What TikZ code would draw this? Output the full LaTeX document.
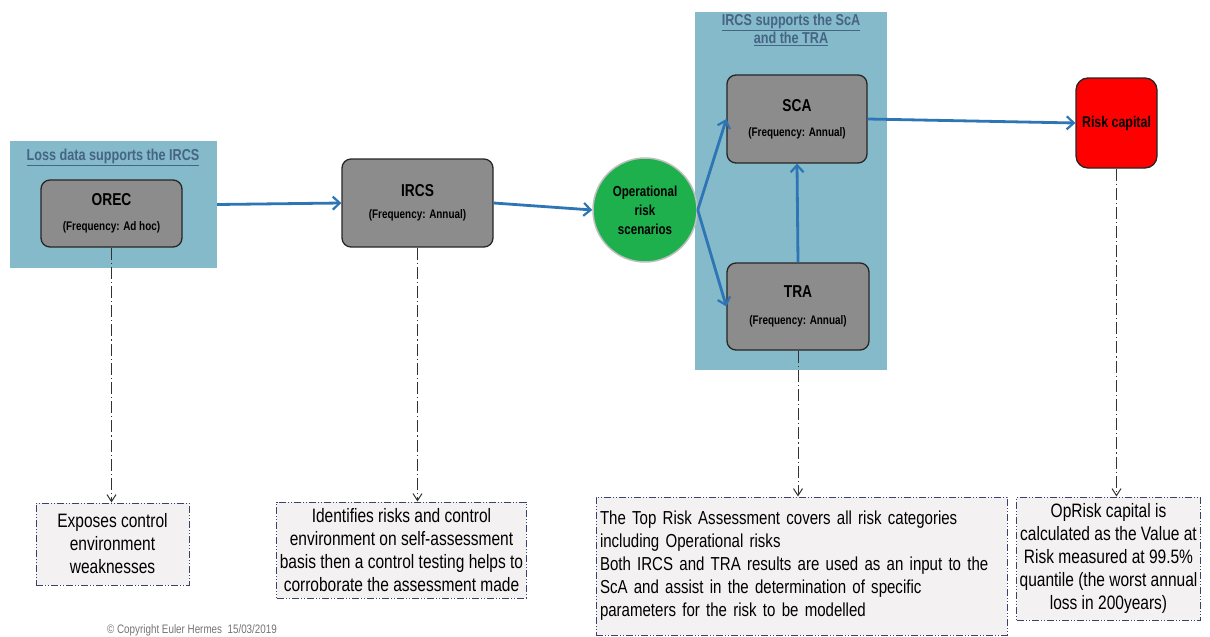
\documentclass[tikz,border=0pt]{standalone}
\usepackage{fontspec}
\setmainfont{Liberation Sans}[FakeStretch=0.80]
\usetikzlibrary{arrows.meta}
\definecolor{panelblue}{RGB}{132,186,201}
\definecolor{paneltext}{RGB}{70,100,132}
\definecolor{boxgray}{RGB}{140,140,140}
\definecolor{flowblue}{RGB}{46,117,182}
\definecolor{notefill}{RGB}{243,241,241}
\definecolor{noteline}{RGB}{58,66,108}
\definecolor{scengreen}{RGB}{30,176,76}
\begin{document}
\begin{tikzpicture}[x=1pt,y=-1pt,line cap=butt,line join=miter,font=\fontsize{19.4}{23}\selectfont]
	\tikzset{panel/.style={fill=panelblue,draw=none,inner sep=0pt},
		paneltitle/.style={text=paneltext,font=\fontsize{15.8}{17}\bfseries,align=center},
		task/.style={draw=black!85,line width=1.3pt,fill=boxgray,rounded corners=9pt,align=center,inner sep=0pt},
		note/.style={draw=noteline,line width=1pt,fill=notefill,inner sep=3pt,
			dash pattern=on 7pt off 2pt on 1pt off 2pt on 1pt off 2pt},
		flow/.style={draw=flowblue,line width=2.8pt,-{Straight Barb[length=7pt,width=13pt,line width=2.2pt]}},
		link/.style={draw=black!80,line width=1pt,dash pattern=on 12pt off 3pt on 1.2pt off 3pt,
			-{Straight Barb[length=7pt,width=9pt,line width=1pt]}}}
	\def\tname#1{{\fontsize{17.2}{22}\bfseries #1}}
	\def\tfreq#1{{\fontsize{12.4}{14}\bfseries #1}}
	\useasboundingbox (0,0) rectangle (1210,637);
	\node[panel,minimum width=207pt,minimum height=127pt] (losspanel) at (113.5,204.5) {};
	\node[panel,minimum width=192pt,minimum height=358pt] (scapanel) at (791,191) {};
	\node[paneltitle] (losstitle) at (113,157) {\underline{Loss data supports the IRCS}};
	\node[paneltitle,font=\fontsize{15.8}{16}\bfseries] (scatitle) at (791,30) {\underline{IRCS supports the ScA}\\\underline{and the TRA}};
	\node[task,minimum width=141pt,minimum height=67pt] (orec) at (111.5,213.5) {\tname{OREC}\\[2pt]\tfreq{(Frequency: Ad hoc)}};
	\node[task,minimum width=151pt,minimum height=88pt] (ircs) at (417.5,203) {\tname{IRCS}\\[-1pt]\tfreq{(Frequency: Annual)}};
	\node[circle,draw=black!25,line width=1.5pt,fill=scengreen,minimum size=104pt,inner sep=0pt,align=center,
		font=\fontsize{14.5}{19}\bfseries] (scen) at (645,210) {Operational\\risk\\scenarios};
	\node[task,minimum width=140pt,minimum height=88pt] (sca) at (797,119) {\tname{SCA}\\[2pt]\tfreq{(Frequency: Annual)}};
	\node[task,minimum width=142pt,minimum height=87pt] (tra) at (798,306.5) {\tname{TRA}\\[4pt]\tfreq{(Frequency: Annual)}};
	\node[task,fill=red,rounded corners=12pt,minimum width=81pt,minimum height=90pt,
		font=\fontsize{15.5}{16}\bfseries] (risk) at (1116.5,123) {Risk capital};
	\node[note,minimum width=153pt,minimum height=82pt,align=center] (exposes) at (112.5,544)
		{Exposes control\\environment\\weaknesses};
	\node[note,minimum width=237pt,minimum height=96pt,align=center] (identifies) at (401.5,550)
		{Identifies risks and control\\environment on self-assessment\\basis then a control testing helps to\\corroborate the assessment made};
	\node[note,minimum width=411pt,minimum height=138pt,text width=403pt,align=left,
		font=\fontsize{18.8}{23}\selectfont] (toprisk) at (801.5,566)
		{The Top Risk Assessment covers all risk categories\\including Operational risks\\Both IRCS and TRA results are used as an input to the\\ScA and assist in the determination of specific\\parameters for the risk to be modelled};
	\node[note,minimum width=183pt,minimum height=123pt,align=center] (oprisk) at (1108.5,558.5)
		{OpRisk capital is\\calculated as the Value at\\Risk measured at 99.5\%\\quantile (the worst annual\\loss in 200years)};
	\node[text=black!55,font=\fontsize{12.3}{13}\selectfont] (copyright) at (192,630) {\textcopyright{} Copyright Euler Hermes\ \ 15/03/2019};
	\draw[flow] (losspanel.east) -- (ircs.west);
	\draw[flow] (ircs.east) -- (scen.west);
	\draw[flow] (scen.east) -- (sca.west);
	\draw[flow] (scen.east) -- (tra.west);
	\draw[flow] (tra.north) -- (sca.south);
	\draw[flow] (sca.east) -- (risk.west);
	\foreach \a/\b in {orec/exposes,ircs/identifies,tra/toprisk,risk/oprisk}{
		\draw[link] (\a.south) -- (\a.south |- \b.north);}
\end{tikzpicture}
\end{document}
